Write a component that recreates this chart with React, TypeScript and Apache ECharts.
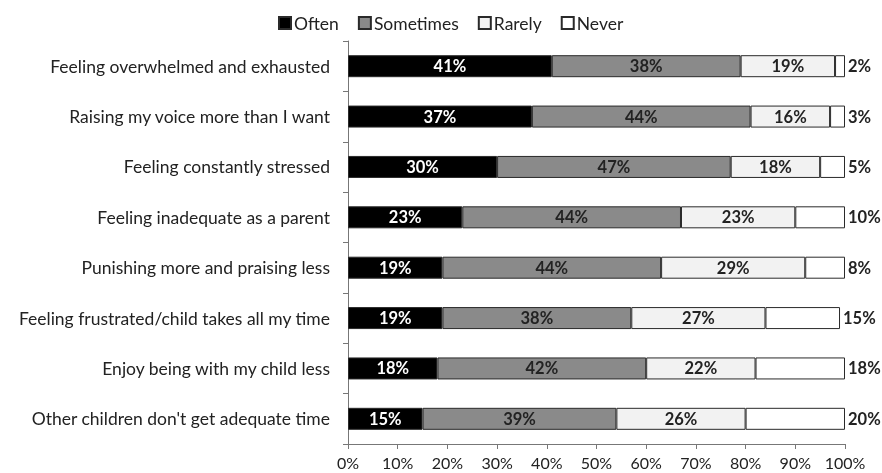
import React, { useEffect, useRef } from "react";
import * as echarts from "echarts";

const categories = [
  "Feeling overwhelmed and exhausted",
  "Raising my voice more than I want",
  "Feeling constantly stressed",
  "Feeling inadequate as a parent",
  "Punishing more and praising less",
  "Feeling frustrated/child takes all my time",
  "Enjoy being with my child less",
  "Other children don't get adequate time",
];
const often = [41, 37, 30, 23, 19, 19, 18, 15];
const sometimes = [38, 44, 47, 44, 44, 38, 42, 39];
const rarely = [19, 16, 18, 23, 29, 27, 22, 26];
const never = [2, 3, 5, 10, 8, 15, 18, 20];
const xTicks = [0, 10, 20, 30, 40, 50, 60, 70, 80, 90, 100];

const FONT = "Lato, 'Open Sans', sans-serif";

export default function App() {
  const ref = useRef<HTMLDivElement>(null);
  useEffect(() => {
    if (!ref.current) return;
    const chart = echarts.init(ref.current, undefined, { renderer: "svg" });
    const border = { borderColor: "#2a2a2a", borderWidth: 1 };
    const mk = (name: string, data: number[], color: string, labelColor: string, outside = false) => ({
      name,
      type: "bar",
      stack: "all",
      data,
      barWidth: 22,
      itemStyle: { color, ...border },
      label: {
        show: true,
        position: outside ? "right" : "inside",
        distance: 3,
        formatter: "{c}%",
        color: labelColor,
        fontFamily: FONT,
        fontWeight: "bold",
        fontSize: 16.5,
      },
    });
    chart.setOption({
      animation: false,
      textStyle: { fontFamily: FONT },
      legend: {
        top: 9,
        left: 273,
        itemWidth: 12,
        itemHeight: 12,
        itemGap: 19,
        icon: "rect",
        textStyle: { fontFamily: FONT, fontSize: 17.5, color: "#222", padding: [0, 0, 0, -2] },
        data: ["Often", "Sometimes", "Rarely", "Never"],
      },
      grid: { left: 348, right: 37, top: 41, bottom: 29, containLabel: false },
      xAxis: {
        type: "value",
        min: 0,
        max: 100,
        interval: 10,
        axisLine: { show: true, lineStyle: { color: "#777", width: 1 } },
        axisTick: { show: true, length: 5, lineStyle: { color: "#777" } },
        splitLine: { show: false },
        axisLabel: {
          formatter: (v: number) => (xTicks.includes(v) ? v + "%" : ""),
          color: "#222",
          fontFamily: FONT,
          fontSize: 16,
          margin: 10,
        },
      },
      yAxis: {
        type: "category",
        inverse: true,
        data: categories,
        axisLine: { show: true, lineStyle: { color: "#777", width: 1 } },
        axisTick: { show: true, length: 5, lineStyle: { color: "#777" } },
        axisLabel: { color: "#222", fontFamily: FONT, fontSize: 17.5, margin: 18 },
      },
      series: [
        mk("Often", often, "#000000", "#ffffff"),
        mk("Sometimes", sometimes, "#8a8a8a", "#222222"),
        mk("Rarely", rarely, "#f2f2f2", "#222222"),
        mk("Never", never, "#ffffff", "#222222", true),
      ],
    });
    return () => chart.dispose();
  }, []);
  return (
    <div
      ref={ref}
      style={{ position: "fixed", left: 0, top: 0, width: 882, height: 473 }}
    />
  );
}
